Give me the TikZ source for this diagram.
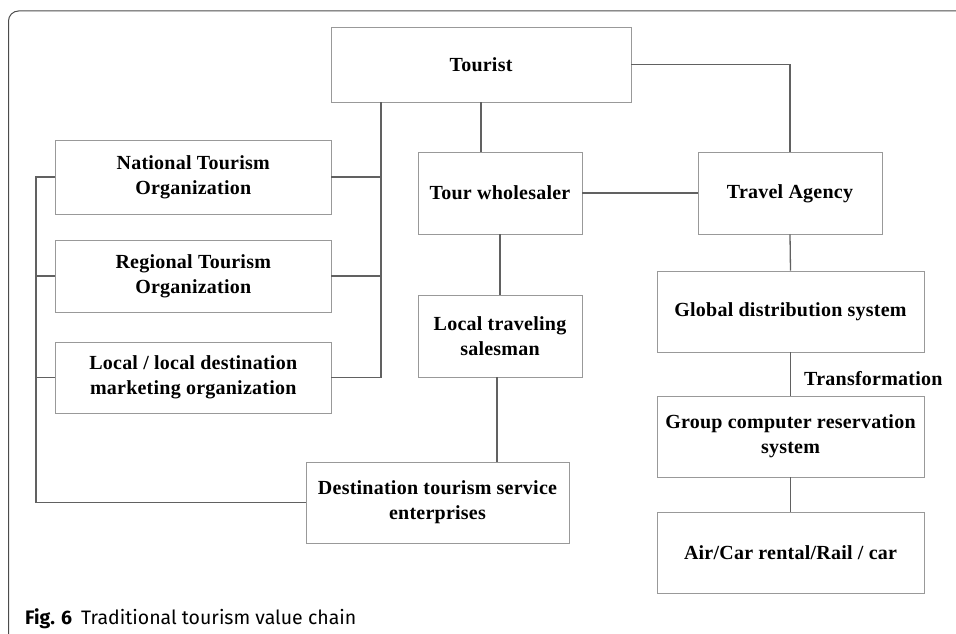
\documentclass[tikz,border=0pt]{standalone}
\usepackage{fontspec}
\setmainfont{Liberation Serif}[LetterSpace=1.2]
\newfontfamily\capfont{Fira Sans}
\begin{document}
\begin{tikzpicture}[x=1pt,y=-1pt,
  box/.style={draw=black!40, line width=0.9pt, fill=white, rectangle, align=center,
    inner sep=0pt, font=\fontsize{20}{25}\selectfont\bfseries},
  link/.style={draw=black!62, line width=1.3pt},
  frameline/.style={draw=black!70, line width=1pt, rounded corners=10pt}]
\useasboundingbox (0,0) rectangle (956,634);

% outer figure frame (top and left edges)
\draw[frameline] (8.5,634) -- (8.5,11) -- (956,11);

% boxes
\node[box, minimum width=300pt, minimum height=75pt] (tourist) at (481,64.5) {Tourist};
\node[box, minimum width=275.5pt, minimum height=74pt] (nat) at (193.25,177) {National Tourism\\Organization};
\node[box, minimum width=275.5pt, minimum height=72pt] (reg) at (193.25,276) {Regional Tourism\\Organization};
\node[box, minimum width=275.5pt, minimum height=71pt] (loc) at (193.25,377.5) {Local / local destination\\marketing organization};
\node[box, minimum width=164pt, minimum height=82pt] (whole) at (500,193) {Tour wholesaler};
\node[box, minimum width=184pt, minimum height=82pt] (agency) at (790,193) {\strut Travel Agency};
\node[box, minimum width=164pt, minimum height=82pt] (sales) at (500,336) {Local traveling\\salesman};
\node[box, minimum width=263pt, minimum height=81pt] (dest) at (437.5,502.5) {Destination tourism service\\enterprises};
\node[box, minimum width=267pt, minimum height=81pt] (gds) at (790.5,311.5) {Global distribution system};
\node[box, minimum width=267pt, minimum height=81pt] (crs) at (790.5,436.5) {Group computer reservation\\system};
\node[box, minimum width=267pt, minimum height=81pt] (air) at (790.5,552.5) {Air/Car rental/Rail / car};

% bus lines and junction points
\coordinate (busR) at (381,377.5);
\coordinate (busL) at (36,502.5);
\coordinate (salesFoot) at (497,377);

% organizations to the tourist
\draw[link] (tourist.south -| busR) -- (busR);
\draw[link] (nat.east) -- (nat.east -| busR);
\draw[link] (reg.east) -- (reg.east -| busR);
\draw[link] (loc.east) -- (busR);

% organizations to the destination enterprises
\draw[link] (nat.west) -- (nat.west -| busL) -- (busL) -- (dest.west);
\draw[link] (reg.west) -- (reg.west -| busL);
\draw[link] (loc.west) -- (loc.west -| busL);

% distribution chain
\draw[link] (tourist.south) -- (tourist.south |- whole.north);
\draw[link] (tourist.east) -| (agency.north);
\draw[link] (whole.east) -- (agency.west);
\draw[link] (whole.south) -- (sales.north);
\draw[link] (salesFoot) -- (salesFoot |- dest.north);
\draw[link] (agency.south) -- (gds.north);
\draw[link] (gds.south) -- (crs.north);
\draw[link] (crs.south) -- (air.north);

\node[font=\fontsize{20}{25}\selectfont\bfseries, anchor=west, inner sep=0pt] (trans) at (804,379) {Transformation};

% caption
\node[anchor=base west, inner sep=0pt, font=\capfont\fontsize{19.5}{22}\selectfont] (cap) at (25,624)
  {\textbf{Fig. 6}\hspace{9pt}Traditional tourism value chain};
\end{tikzpicture}
\end{document}
